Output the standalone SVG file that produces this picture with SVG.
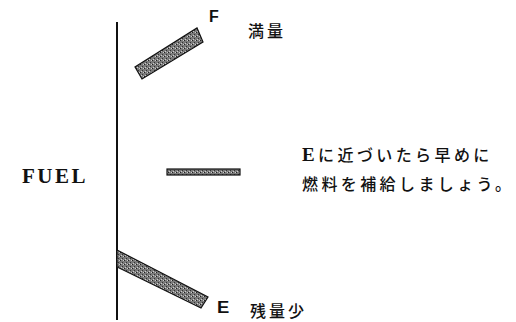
<svg xmlns="http://www.w3.org/2000/svg" width="516" height="322" viewBox="0 0 516 322">
<defs>
<pattern id="stip" width="4" height="4" patternUnits="userSpaceOnUse">
<rect width="4" height="4" fill="#7a7a7a"/>
<rect x="0" y="0" width="1" height="1" fill="#222"/>
<rect x="2" y="2" width="1" height="1" fill="#333"/>
<rect x="3" y="0" width="1" height="1" fill="#ccc"/>
<rect x="1" y="3" width="1" height="1" fill="#ccc"/>
</pattern>
</defs>
<style>
.bar{fill:url(#stip);stroke:#111;stroke-width:1.2}
.serif{font-family:"Liberation Serif","Noto Sans CJK JP",serif;fill:#111}
.jp{font-family:"Noto Sans CJK JP","Liberation Sans",sans-serif;fill:#111;font-weight:500}
.lbl{font-family:"Liberation Sans",Arial,sans-serif;font-weight:bold;fill:#111}
</style>
<rect width="516" height="322" fill="#fff"/>
<g id="gauge-axis">
<line x1="117" y1="22" x2="117" y2="320" stroke="#111" stroke-width="2"/>
</g>
<g id="needle-full">
<polygon class="bar" points="135,67 142,79 203,42 197,28"/>
</g>
<g id="needle-mid">
<rect class="bar" x="167" y="169" width="73" height="6"/>
</g>
<g id="needle-empty">
<polygon class="bar" points="117,250 208,297 201,308 117,267"/>
</g>
<g id="label-F">
<text class="lbl" x="209" y="22" font-size="16">F</text>
<text class="jp" x="248" y="37" font-size="16" letter-spacing="3">満量</text>
</g>
<g id="label-E">
<text class="lbl" x="217" y="313.5" font-size="16" transform="translate(217 0) scale(1.15 1) translate(-217 0)">E</text>
<text class="jp" x="250" y="317" font-size="16" letter-spacing="3" font-weight="400">残量少</text>
</g>
<g id="label-fuel">
<text class="serif" x="22" y="183" font-size="21" letter-spacing="2.5" font-weight="bold">FUEL</text>
</g>
<g id="note">
<text class="jp" x="302" y="161" font-size="16" letter-spacing="3.4"><tspan font-family="Liberation Serif, serif" font-weight="bold" font-size="19">E</tspan>に近づいたら早めに</text>
<text class="jp" x="302" y="190" font-size="16" letter-spacing="3.4">燃料を補給しましょう。</text>
</g>
<g id="connectors"></g>
</svg>
